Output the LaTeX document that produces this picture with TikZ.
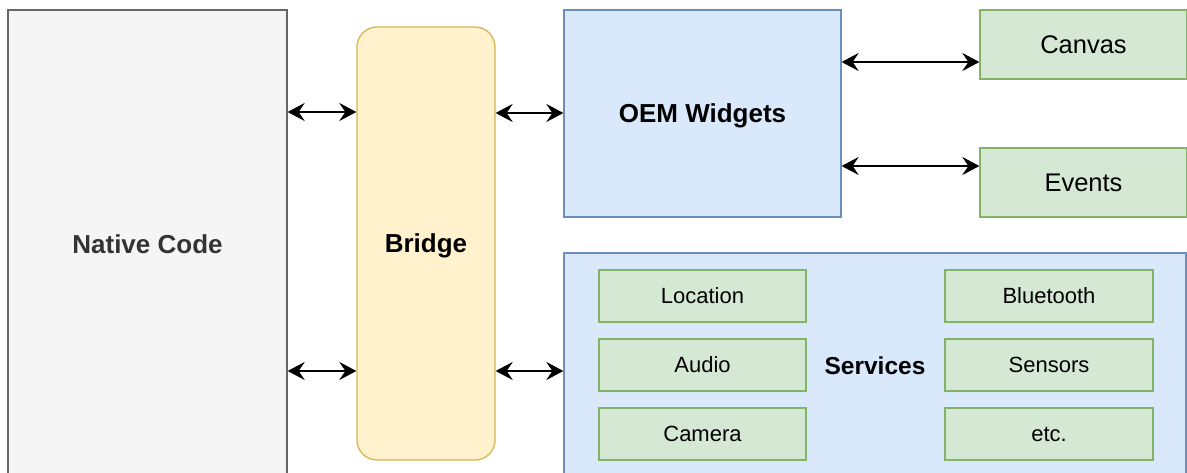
\documentclass[tikz,border=0pt]{standalone}
\usepackage{fontspec}
\setmainfont{Liberation Sans}
\usetikzlibrary{arrows.meta}
\definecolor{natfill}{HTML}{F5F5F5}
\definecolor{natline}{HTML}{666666}
\definecolor{nattext}{HTML}{333333}
\definecolor{yelfill}{HTML}{FFF2CC}
\definecolor{yelline}{HTML}{D6B656}
\definecolor{bluefill}{HTML}{DAE8FC}
\definecolor{blueline}{HTML}{6C8EBF}
\definecolor{grnfill}{HTML}{D5E8D4}
\definecolor{grnline}{HTML}{82B366}
\tikzset{
  box/.style={draw, line width=1.3pt, inner sep=0pt, align=center, text depth=0pt},
  bigbold/.style={font=\fontsize{26}{30}\selectfont\bfseries, text height=18.6pt},
  natbox/.style={box, fill=natfill, draw=natline, text=nattext, bigbold},
  bridgebox/.style={box, fill=yelfill, draw=yelline, rounded corners=20pt, bigbold},
  bluebox/.style={box, fill=bluefill, draw=blueline, bigbold},
  grnbox/.style={box, fill=grnfill, draw=grnline, font=\fontsize{22}{26}\selectfont, text height=15.8pt},
  grnbig/.style={box, fill=grnfill, draw=grnline, font=\fontsize{25.5}{29}\selectfont, text height=18.3pt},
  lbl/.style={inner sep=0pt, text height=17.5pt, text depth=0pt, font=\fontsize{24.5}{28}\selectfont\bfseries},
  arr/.style={line width=2pt, {Stealth[length=17pt,width=18pt,inset=6pt]}-{Stealth[length=17pt,width=18pt,inset=6pt]}}
}
\begin{document}
\begin{tikzpicture}[x=1pt,y=-1pt]
\useasboundingbox (0,0) rectangle (1187,473);
\clip (0,0) rectangle (1187,473);
\fill[white] (0,0) rectangle (1187,473);
% main blocks
\node[natbox, minimum width=279pt, minimum height=468pt] (nat) at (147.5,244) {Native Code};
\node[bridgebox, minimum width=138pt, minimum height=433pt] (bridge) at (426,243.5) {Bridge};
\node[bluebox, minimum width=277pt, minimum height=207pt] (oem) at (702.5,113.5) {OEM Widgets};
\node[grnbig, minimum width=207pt, minimum height=69pt] (canvas) at (1083.5,44.5) {Canvas};
\node[grnbig, minimum width=207pt, minimum height=69pt] (events) at (1083.5,182.5) {Events};
% services
\node[box, fill=bluefill, draw=blueline, minimum width=622pt, minimum height=226pt] (svc) at (875,366) {};
\node[lbl] (svclbl) at (875,366) {Services};
\node[grnbox, minimum width=207pt, minimum height=52pt] (loc) at (702.5,296) {Location};
\node[grnbox, minimum width=207pt, minimum height=52pt] (aud) at (702.5,365) {Audio};
\node[grnbox, minimum width=207pt, minimum height=52pt] (cam) at (702.5,434) {Camera};
\node[grnbox, minimum width=208pt, minimum height=52pt] (blu) at (1049,296) {Bluetooth};
\node[grnbox, minimum width=208pt, minimum height=52pt] (sen) at (1049,365) {Sensors};
\node[grnbox, minimum width=208pt, minimum height=52pt] (etc) at (1049,434) {etc.};
% connectors
\draw[arr] (nat.east |- 0,112) -- (bridge.west |- 0,112);
\draw[arr] (nat.east |- 0,371) -- (bridge.west |- 0,371);
\draw[arr] (bridge.east |- 0,113) -- (oem.west |- 0,113);
\draw[arr] (bridge.east |- 0,371) -- (svc.west |- 0,371);
\draw[arr] (oem.east |- 0,62) -- (canvas.west |- 0,62);
\draw[arr] (oem.east |- 0,166) -- (events.west |- 0,166);
\end{tikzpicture}
\end{document}
